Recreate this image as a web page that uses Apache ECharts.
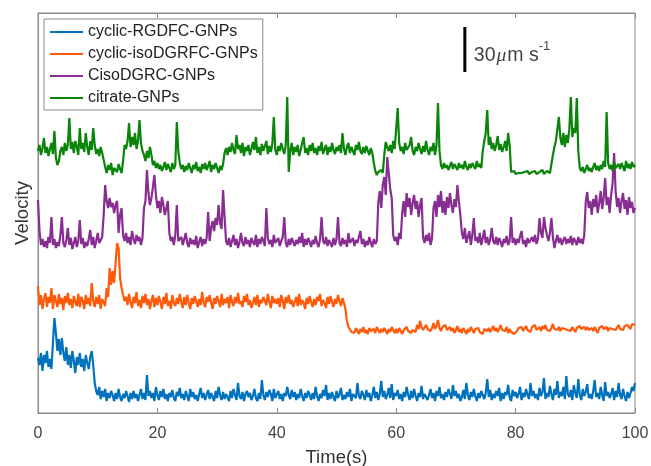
<!DOCTYPE html>
<html>
<head>
<meta charset="utf-8">
<title>Velocity traces</title>
<script src="https://cdn.jsdelivr.net/npm/echarts@6/dist/echarts.min.js"></script>
<style>
  html, body { margin: 0; padding: 0; background: #fff; }
  #chart { width: 651px; height: 466px; }
</style>
</head>
<body>
<div id="chart"></div>
<script>
// Sampling interval of every trace (s); traces run from 0 to 100 s.
const sampleStep = 0.25;
const timeTicks = [0, 20, 40, 60, 80, 100];

// Series names as they appear in the legend.
const seriesNames = ['cyclic-RGDFC-GNPs', 'cyclic-isoDGRFC-GNPs', 'CisoDGRC-GNPs', 'citrate-GNPs'];

// Stacked velocity traces, in plot units (1.5 units per µm/s), offset for display.
const rgdfc = [
  55,48,60,42, 58,50,62,46, 54,44,70,95, 80,62,74,58, 75,60,52,66,
  48,58,45,62, 52,40,56,48, 60,46,54,42, 58,50,44,56, 62,48,30,22,
  18,26,14,22, 16,24,12,20, 15,22,18,12, 20,14,24,16, 12,19,15,22,
  17,11,20,14, 22,15,19,12, 18,24,14,20, 13,38,17,22, 15,20,12,26,
  18,13,22,16, 24,14,19,12, 20,16,23,15, 12,21,17,25, 15,19,13,22,
  17,12,24,16, 21,14,18,12, 19,25,15,20, 13,18,23,14, 20,16,12,22,
  15,26,18,13, 21,14,19,16, 12,22,15,24, 18,13,30,17, 14,21,12,19,
  22,16,20,13, 17,24,15,12, 20,14,33,18, 13,21,16,23, 19,12,24,15,
  16,22,14,19, 12,20,17,26, 18,14,23,16, 21,13,19,15, 24,17,12,20,
  15,22,18,13, 20,14,26,17, 12,19,15,23, 17,28,13,20, 14,21,16,12,
  22,15,19,25, 13,18,14,21, 16,24,12,19, 20,15,30,17, 14,22,18,13,
  23,16,20,12, 18,26,15,21, 13,19,32,16, 22,14,18,25, 15,29,13,20,
  17,23,14,19, 12,21,16,26, 18,13,22,15, 24,17,12,20, 16,27,14,19,
  21,13,18,24, 15,20,12,22, 17,26,15,19, 13,21,16,24, 19,14,28,17,
  22,15,19,12, 16,23,14,30, 18,13,21,16, 24,17,12,20, 15,22,18,14,
  20,34,16,23, 13,19,15,22, 17,25,12,20, 14,21,18,28, 16,12,23,17,
  21,15,19,26, 13,20,16,24, 18,14,30,17, 22,15,19,13, 25,17,21,35,
  14,20,16,27, 19,13,24,18, 32,15,21,17, 26,14,37,19, 16,23,13,28,
  20,15,34,18, 13,24,17,21, 29,15,19,14, 22,33,16,20, 14,26,18,12,
  31,17,21,15, 19,25,13,22, 16,30,18,14, 24,17,12,21, 15,20,26,22,
  30
];
const isoDGRFC = [
  127,108,118,104, 114,120,106,116, 110,125,104,118, 112,106,119,109, 115,103,117,110,
  120,108,114,105, 117,111,107,119, 106,116,112,104, 118,109,115,107, 130,112,106,116,
  109,118,104,114, 111,107,125,116, 145,128,142,130, 150,170,165,135, 125,118,112,116,
  108,119,111,105, 116,110,121,107, 113,105,117,110, 119,108,114,104, 112,118,106,115,
  108,117,111,104, 116,109,120,107, 112,104,118,110, 107,115,109,119, 111,105,116,108,
  118,110,104,115, 109,117,112,106, 114,108,121,110, 106,116,111,118, 110,104,115,109,
  117,112,106,119, 108,114,110,116, 105,118,111,107, 116,110,120,109, 112,106,117,111,
  119,108,113,105, 110,116,108,118, 106,113,110,116, 114,108,119,111, 105,117,110,114,
  109,115,106,118, 112,104,116,110, 118,109,113,106, 111,116,107,119, 108,113,110,104,
  115,109,117,111, 106,114,108,116, 112,119,107,113, 110,105,116,109, 117,111,106,114,
  109,118,112,107, 115,110,104,92, 86,84,81,83, 80,85,82,79, 84,81,86,80,
  83,79,85,82, 81,84,80,86, 83,80,84,81, 85,82,79,84, 81,86,83,80,
  84,80,85,82, 79,83,81,86, 82,84,80,83, 85,81,88,84, 92,86,83,85,
  88,84,86,82, 85,90,84,87, 93,85,82,86, 84,88,83,81, 86,82,85,80,
  83,87,81,84, 80,85,82,79, 84,81,86,83, 80,84,82,85, 81,83,79,84,
  86,82,85,81, 83,87,82,85, 81,84,88,83, 85,82,86,80, 84,81,83,79,
  77,82,85,83, 86,82,84,87, 83,85,81,86, 84,88,83,85, 86,82,87,84,
  88,83,85,82, 85,89,84,86, 83,86,82,85, 87,84,86,83, 85,82,86,84,
  81,85,83,87, 84,82,86,83, 86,83,81,85, 82,86,84,80, 85,83,87,84,
  83,86,82,85, 87,84,86,83, 85,88,84,86, 83,87,85,88, 86,84,89,87,
  88
];
const cisoDGRC = [
  213,182,168,174, 166,172,165,176, 170,196,168,174, 165,171,167,178, 196,170,166,173,
  185,168,175,164, 170,176,166,172, 193,169,175,165, 171,167,174,183, 168,176,165,172,
  180,170,168,176, 198,228,212,205, 215,206,210,200, 208,212,180,198, 205,178,172,180,
  170,176,168,182, 174,169,178,172, 176,168,175,205, 212,243,220,208, 215,226,238,218,
  205,212,200,216, 208,198,205,212, 180,172,176,168, 178,208,172,170, 176,168,174,180,
  170,166,175,169, 173,168,177,165, 171,176,167,174, 169,175,201,172, 185,192,182,195,
  188,208,190,184, 223,196,172,168, 175,166,172,178, 168,174,165,171, 180,170,167,176,
  169,173,166,175, 171,168,178,166, 174,169,176,172, 167,205,175,169, 173,166,178,170,
  168,175,167,172, 176,196,170,166, 174,168,175,171, 167,173,169,176, 170,180,166,174,
  168,175,171,166, 173,169,177,170, 166,174,196,172, 169,176,167,173, 171,166,175,168,
  174,196,170,167, 175,169,173,166, 180,170,168,175, 167,173,170,176, 182,169,174,166,
  172,168,176,170, 166,174,169,172, 210,222,205,228, 236,218,256,240, 224,215,178,172,
  176,168,180,174, 200,212,196,220, 206,215,198,210, 218,204,212,196, 208,215,176,170,
  178,172,180,168, 174,205,212,196, 218,206,222,200, 212,198,216,205, 220,208,200,214,
  206,228,212,198, 180,174,185,170, 176,182,168,178, 195,172,176,170, 180,168,175,183,
  170,176,168,174, 185,172,169,176, 168,175,171,166, 174,170,177,168, 172,196,170,175,
  168,174,170,177, 182,169,173,166, 175,170,168,176, 171,178,169,174, 195,180,175,196,
  185,178,172,180, 195,176,165,172, 178,170,175,168, 173,176,169,174, 170,177,168,175,
  172,168,176,170, 174,169,178,211, 221,205,212,198, 214,206,218,200, 210,222,204,215,
  235,208,216,200, 218,230,260,222, 206,215,200,212, 220,204,213,198, 216,205,211,200,
  205
];
const citrate = [
  262,268,258,265, 275,260,266,257, 264,270,259,282, 255,248,252,262, 266,258,270,262,
  268,295,264,271, 260,272,266,258, 285,264,270,261, 280,266,258,272, 263,285,268,259,
  264,257,266,260, 262,246,240,248, 243,250,238,245, 247,241,249,244, 240,252,268,264,
  272,290,266,276, 268,280,264,272, 293,270,262,258, 252,262,255,266, 258,248,252,245,
  250,244,248,242, 246,251,243,249, 245,241,250,244, 248,291,262,250, 244,248,241,247,
  243,250,245,240, 248,244,251,242, 246,240,249,244, 250,243,247,252, 241,248,244,250,
  245,240,247,243, 249,260,265,258, 266,261,270,263, 259,278,264,268, 260,270,257,266,
  262,268,258,264, 271,263,276,260, 266,258,269,262, 264,272,259,267, 261,269,296,263,
  258,267,262,270, 264,259,268,316, 241,262,270,258, 266,261,268,257, 263,270,276,260,
  265,258,268,262, 270,260,265,258, 267,262,271,259, 264,268,258,266, 261,270,263,259,
  266,262,268,260, 280,264,258,266, 270,260,266,262, 258,268,263,271, 262,259,266,260,
  267,262,258,265, 260,250,242,238, 241,239,243,240, 258,271,266,262, 268,260,272,264,
  266,305,270,262, 266,259,270,263, 261,268,276,262, 258,266,262,270, 264,259,267,261,
  272,263,258,266, 262,270,258,268, 310,262,248,244, 250,245,248,243, 247,251,244,249,
  246,243,250,245, 248,244,252,246, 243,249,245,250, 247,244,252,246, 249,245,262,272,
  280,303,268,276, 264,270,262,268, 277,263,269,261, 266,272,262,280, 268,241,240,242,
  239,241,240,242, 240,238,241,240, 242,239,240,241, 240,242,239,241, 241,240,243,239,
  240,242,241,240, 242,258,266,272, 270,296,275,268, 280,266,278,270, 284,316,276,285,
  280,315,262,245, 242,246,240,244, 248,242,245,241, 246,250,243,247, 242,248,244,252,
  246,301,250,244, 248,242,251,245, 243,249,244,250, 246,242,252,245, 249,244,251,246,
  248
];

// Scale bar: 30 µm/s drawn at t = 71.5 s, starting at 341 plot units.
const unitsPerMicron = 1.5;
const scaleBarMicrons = 30;
const scaleBarTime = 71.5;
const scaleBarBase = 341;

const colors = ['#0072BD', '#FF5A0A', '#882D91', '#0A850A'];
const traces = [rgdfc, isoDGRFC, cisoDGRC, citrate];

const toPairs = vals => vals.map((v, i) => [i * sampleStep, v]);

// Legend glyph: a 2px horizontal stroke centred in a 33x16 box.
const legendLineIcon = 'path://M0,0 M0,7 L33,7 L33,9 L0,9 Z M33,16';

const chart = echarts.init(document.getElementById('chart'), null, { renderer: 'canvas' });

const barTop = scaleBarBase + scaleBarMicrons * unitsPerMicron;

const series = traces.map((vals, k) => ({
  name: seriesNames[k],
  type: 'line',
  data: toPairs(vals),
  symbol: 'none',
  showSymbol: false,
  lineStyle: { width: 2.2, color: colors[k] },
  itemStyle: { color: colors[k] },
  z: 2 + k
}));

// Vertical scale bar.
series.push({
  name: 'scale',
  type: 'line',
  data: [[scaleBarTime, scaleBarBase], [scaleBarTime, barTop]],
  symbol: 'none',
  showSymbol: false,
  silent: true,
  lineStyle: { width: 3, color: '#000' },
  z: 10
});

// Scale bar caption, anchored to the bar's midpoint.
series.push({
  name: 'scaleLabel',
  type: 'scatter',
  data: [[scaleBarTime, (scaleBarBase + barTop) / 2]],
  symbolSize: 0,
  silent: true,
  z: 10,
  label: {
    show: true,
    position: 'right',
    distance: 9,
    offset: [0, 3],
    formatter: '{a|' + scaleBarMicrons + '}{mu|μ}{a|m s}{sup|-1}',
    rich: {
      a: { fontSize: 19.5, color: '#111', fontFamily: 'Liberation Sans', verticalAlign: 'bottom', lineHeight: 26 },
      mu: { fontSize: 19.5, color: '#111', fontFamily: 'Liberation Serif', fontStyle: 'italic', verticalAlign: 'bottom', lineHeight: 26, padding: [0, 1, 0, 1] },
      sup: { fontSize: 13, color: '#111', fontFamily: 'Liberation Sans', verticalAlign: 'top', lineHeight: 26 }
    }
  }
});

chart.setOption({
  animation: false,
  color: colors,
  textStyle: { fontFamily: 'Liberation Sans' },
  grid: {
    left: 38, right: 16, top: 13, bottom: 53,
    outerBoundsMode: 'none',
    containLabel: false,
    show: true, borderColor: '#8a8a8a', borderWidth: 1, backgroundColor: '#fff'
  },
  legend: {
    data: seriesNames.map(n => ({ name: n, icon: legendLineIcon })),
    orient: 'vertical',
    left: 44, top: 19,
    padding: [5, 5, 4, 6],
    itemGap: 6,
    itemWidth: 33,
    itemHeight: 16,
    backgroundColor: '#fff',
    borderColor: '#8a8a8a',
    borderWidth: 1,
    borderRadius: 0,
    textStyle: { fontSize: 16, color: '#222', lineHeight: 16, fontFamily: 'Liberation Sans' }
  },
  xAxis: [{
    type: 'value',
    min: 0, max: 100, interval: 20,
    name: 'Time(s)',
    nameLocation: 'middle',
    nameGap: 35,
    nameTextStyle: { fontSize: 18.5, color: '#333' },
    axisLine: { show: true, lineStyle: { color: '#8a8a8a' } },
    axisTick: { show: true, inside: true, length: 5, lineStyle: { color: '#8a8a8a' } },
    axisLabel: { fontSize: 16, color: '#444', margin: 13 },
    splitLine: { show: false }
  }, {
    type: 'value',
    position: 'top',
    min: 0, max: 100, interval: 20,
    axisLine: { show: true, lineStyle: { color: '#8a8a8a' } },
    axisTick: { show: true, inside: true, length: 5, lineStyle: { color: '#8a8a8a' } },
    axisLabel: { show: false },
    splitLine: { show: false }
  }],
  yAxis: {
    type: 'value',
    min: 0, max: 400,
    name: 'Velocity',
    nameLocation: 'middle',
    nameGap: 6,
    nameTextStyle: { fontSize: 18.5, color: '#333' },
    axisLine: { show: true, lineStyle: { color: '#8a8a8a' } },
    axisTick: { show: false },
    axisLabel: { show: false },
    splitLine: { show: false }
  },
  series: series
});
</script>
</body>
</html>
